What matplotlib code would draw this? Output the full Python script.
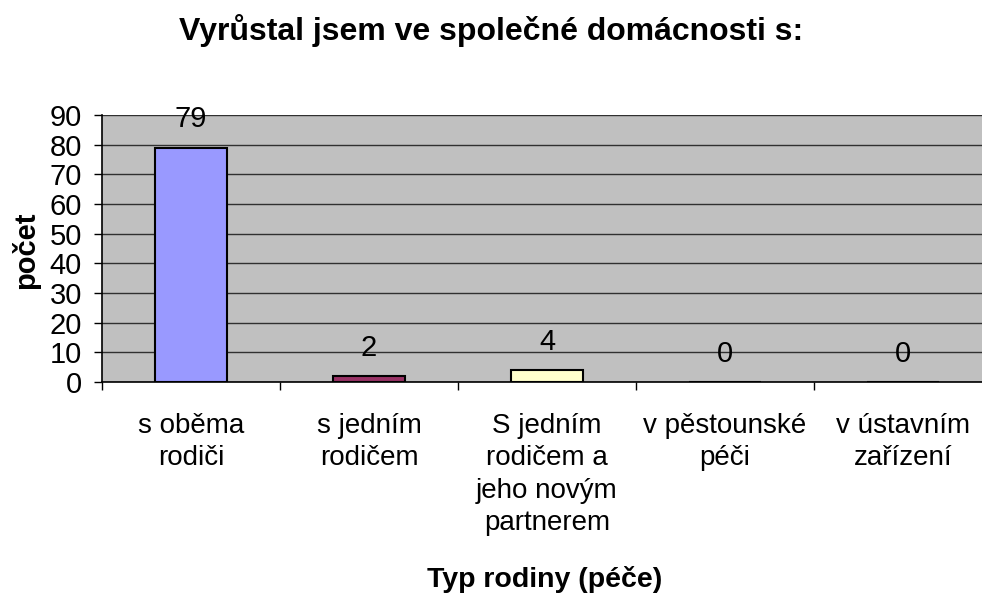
import matplotlib.pyplot as plt
import numpy as np

plt.rcParams['font.family'] = ['Liberation Sans', 'DejaVu Sans']

categories = ["s oběma\nrodiči", "s jedním\nrodičem", "S jedním\nrodičem a\njeho novým\npartnerem",
              "v pěstounské\npéči", "v ústavním\nzařízení"]
values = [79, 2, 4, 0, 0]
colors = ["#9999FF", "#993366", "#FFFFCC", "#00FFFF", "#660066"]

fig = plt.figure(figsize=(9.82, 5.94), dpi=100)
ax = fig.add_axes([102 / 982, 212 / 594, 890 / 982, 267 / 594])
ax.set_facecolor("#C0C0C0")

x = np.arange(len(values))
ax.bar(x, values, width=0.4, color=colors, edgecolor="black", linewidth=1.5, zorder=3)

for xi, v in zip(x, values):
    ax.annotate(str(v), (xi, v), xytext=(0, 20.5), textcoords="offset points",
                ha="center", va="center", fontsize=21)

ax.set_xlim(-0.5, len(values) - 0.5)
ax.set_ylim(0, 90)
ax.set_yticks(np.arange(0, 91, 10))
ax.yaxis.grid(True, color="#303030", linewidth=1)
ax.set_axisbelow(True)

ax.set_xticks(x)
ax.set_xticklabels(categories, fontsize=20, linespacing=1.33)
ax.set_xticks(np.arange(len(values)) - 0.5, minor=True)
ax.tick_params(axis="x", which="major", length=0, pad=22)
ax.tick_params(axis="x", which="minor", length=6, width=1)
ax.tick_params(axis="y", labelsize=21, length=6, width=1, pad=8.5)

for s in ["top", "right"]:
    ax.spines[s].set_visible(False)
ax.spines["left"].set_linewidth(1.2)
ax.spines["bottom"].set_linewidth(1.2)

fig.text(26 / 982, 1 - 250 / 594, "počet", rotation=90, ha="center", va="center",
         fontsize=21, fontweight="bold")
fig.text(545 / 982, 1 - 587 / 594, "Typ rodiny (péče)", ha="center", va="baseline",
         fontsize=20.5, fontweight="bold")
fig.text(491 / 982, 1 - 40 / 594, "Vyrůstal jsem ve společné domácnosti s:", ha="center",
         va="baseline", fontsize=23, fontweight="bold")

fig.savefig("out.png", dpi=100)
